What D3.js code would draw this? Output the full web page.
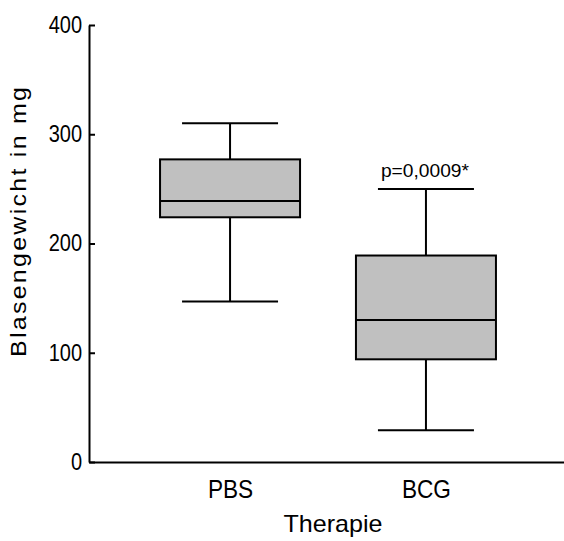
<!DOCTYPE html>
<html>
<head>
<meta charset="utf-8">
<script src="https://cdn.jsdelivr.net/npm/d3@7"></script>
<style>
  body { margin: 0; background: #fff; }
  svg { display: block; font-family: "Liberation Sans", Arial, sans-serif; }
</style>
</head>
<body>
<svg id="chart" width="564" height="541"></svg>
<script>
// box plot data (mg)
const groups = ["PBS", "BCG"];
const whiskerLow = [147, 29];
const q1 = [224, 94];
const median = [239, 130];
const q3 = [277, 189];
const whiskerHigh = [310, 250];
const yTicks = [0, 100, 200, 300, 400];
const note = "p=0,0009*";

const width = 564,
  height = 541,
  squeeze = 0.87; // text in the original is a bit narrow

const svg = d3.select("#chart");

const y = d3.scaleLinear().domain([0, 400]).range([462, 25]);
const x = d3.scalePoint().domain(groups).range([89, 567]).padding(0.72);

const boxW = 140,
  capW = 96;

const data = groups.map(function(g, i) {
  return {
    name: g,
    lo: whiskerLow[i],
    q1: q1[i],
    med: median[i],
    q3: q3[i],
    hi: whiskerHigh[i]
  };
});

const box = svg
  .selectAll("g.box")
  .data(data)
  .enter()
  .append("g")
  .attr("class", "box")
  .attr("transform", function(d) {
    return "translate(" + x(d.name) + ",0)";
  });

// whisker stems
box
  .append("line")
  .attr("y1", d => y(d.hi))
  .attr("y2", d => y(d.q3))
  .attr("stroke", "#000")
  .attr("stroke-width", 2);
box
  .append("line")
  .attr("y1", d => y(d.q1))
  .attr("y2", d => y(d.lo))
  .attr("stroke", "#000")
  .attr("stroke-width", 2);

// caps
box
  .selectAll("line.cap")
  .data(d => [d.lo, d.hi])
  .enter()
  .append("line")
  .attr("class", "cap")
  .attr("x1", -capW / 2)
  .attr("x2", capW / 2)
  .attr("y1", d => y(d))
  .attr("y2", d => y(d))
  .attr("stroke", "#000")
  .attr("stroke-width", 2);

box
  .append("rect")
  .attr("x", -boxW / 2)
  .attr("width", boxW)
  .attr("y", d => y(d.q3))
  .attr("height", d => y(d.q1) - y(d.q3))
  .attr("fill", "#c0c0c0")
  .attr("stroke", "#000")
  .attr("stroke-width", 2);

box
  .append("line")
  .attr("x1", -boxW / 2)
  .attr("x2", boxW / 2)
  .attr("y1", d => y(d.med))
  .attr("y2", d => y(d.med))
  .attr("stroke", "#000")
  .attr("stroke-width", 2);

// significance note over BCG
svg
  .append("text")
  .attr("transform", "translate(" + (x("BCG") - 1) + "," + (y(whiskerHigh[1]) - 12) + ")")
  .attr("text-anchor", "middle")
  .attr("font-size", 19)
  .attr("textLength", 88)
  .attr("lengthAdjust", "spacingAndGlyphs")
  .text(note);

// y axis
const yAxis = svg
  .append("g")
  .attr("transform", "translate(89,0)")
  .call(
    d3
      .axisLeft(y)
      .tickValues(yTicks)
      .tickSizeInner(-6)
      .tickSizeOuter(0)
      .tickPadding(8)
  );
yAxis.select(".domain").attr("stroke-width", 2);
yAxis.selectAll(".tick line").attr("stroke-width", 2);
yAxis
  .selectAll(".tick text")
  .attr("font-size", 23)
  .attr("transform", "scale(" + squeeze + ",1)")
  .attr("fill", "#000");

// x axis
const xAxis = svg
  .append("g")
  .attr("transform", "translate(0,462)")
  .call(d3.axisBottom(x).tickSize(0).tickPadding(17.5));
xAxis.select(".domain").attr("stroke-width", 2);
xAxis
  .selectAll(".tick text")
  .attr("font-size", 26)
  .attr("transform", "scale(" + squeeze + ",1)")
  .attr("fill", "#000");

// axis titles
svg
  .append("text")
  .attr("transform", "translate(26,222) scale(" + squeeze + ",1) rotate(-90)")
  .attr("text-anchor", "middle")
  .attr("font-size", 25)
  .attr("textLength", 270)
  .attr("lengthAdjust", "spacing")
  .text("Blasengewicht in mg");

svg
  .append("text")
  .attr("x", 333)
  .attr("y", 532)
  .attr("text-anchor", "middle")
  .attr("font-size", 24)
  .attr("textLength", 99)
  .attr("lengthAdjust", "spacingAndGlyphs")
  .text("Therapie");
</script>
</body>
</html>
